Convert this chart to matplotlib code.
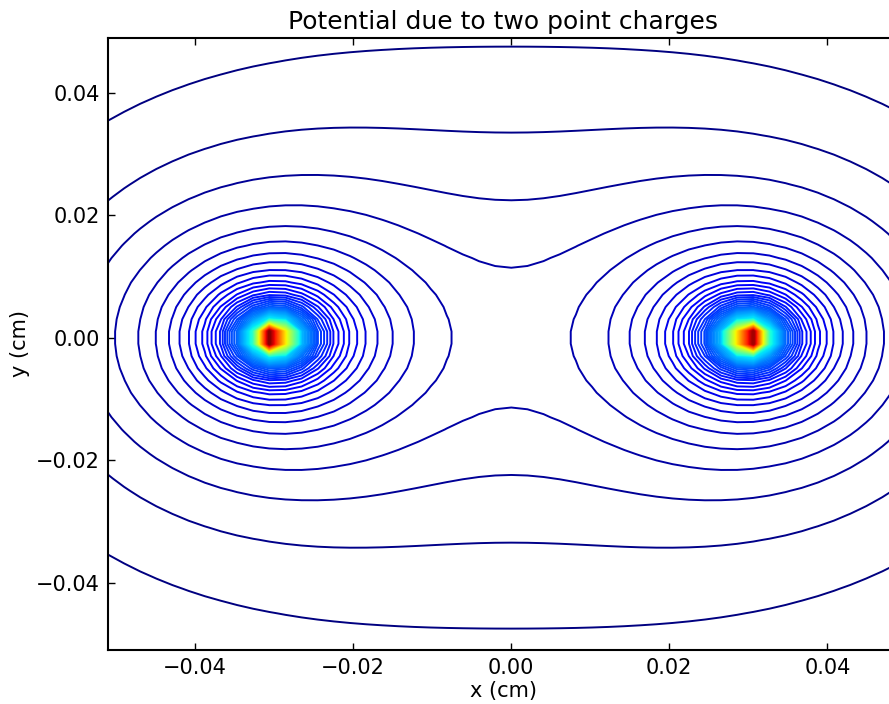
import numpy as np
import matplotlib
matplotlib.use("Agg")
import matplotlib.pyplot as plt

# ---------- datos ----------
charge_x = [-0.03, 0.03]   # cm
charge_y = [0.0, 0.0]
charge_q = [1.0, 1.0]

# malla (no cae sobre las cargas)
x_min, x_max, nx = -0.051, 0.049, 50
y_min, y_max, ny = -0.051, 0.049, 51

level_step = 8.9
level_first = 35.6
level_last = 885.0

plt.rcParams["font.size"] = 15

x = np.linspace(x_min, x_max, nx)
y = np.linspace(y_min, y_max, ny)
X, Y = np.meshgrid(x, y)

V = np.zeros_like(X)
for cx, cy, q in zip(charge_x, charge_y, charge_q):
    r = np.sqrt((X - cx) ** 2 + (Y - cy) ** 2)
    V += q / r

levels = np.arange(level_first, level_last, level_step)

fig = plt.figure(figsize=(8.89, 7.04), dpi=100)
ax = fig.add_axes([108 / 889, 54 / 704, 790.5 / 889, 612.5 / 704])

ax.contour(X, Y, V, levels=levels, cmap="jet", linewidths=1.4)

ax.set_xlim(x_min, x_max)
ax.set_ylim(y_min, y_max)
ax.set_xticks([-0.04, -0.02, 0.0, 0.02, 0.04])
ax.set_yticks([-0.04, -0.02, 0.0, 0.02, 0.04])
ax.tick_params(direction="in", length=5, width=1, top=True, right=True, pad=6)
for s in ax.spines.values():
    s.set_linewidth(1.5)

ax.set_xlabel("x (cm)", labelpad=2)
ax.set_ylabel("y (cm)")
ax.set_title("Potential due to two point charges", fontsize=18)

fig.savefig("out.png", dpi=100)
